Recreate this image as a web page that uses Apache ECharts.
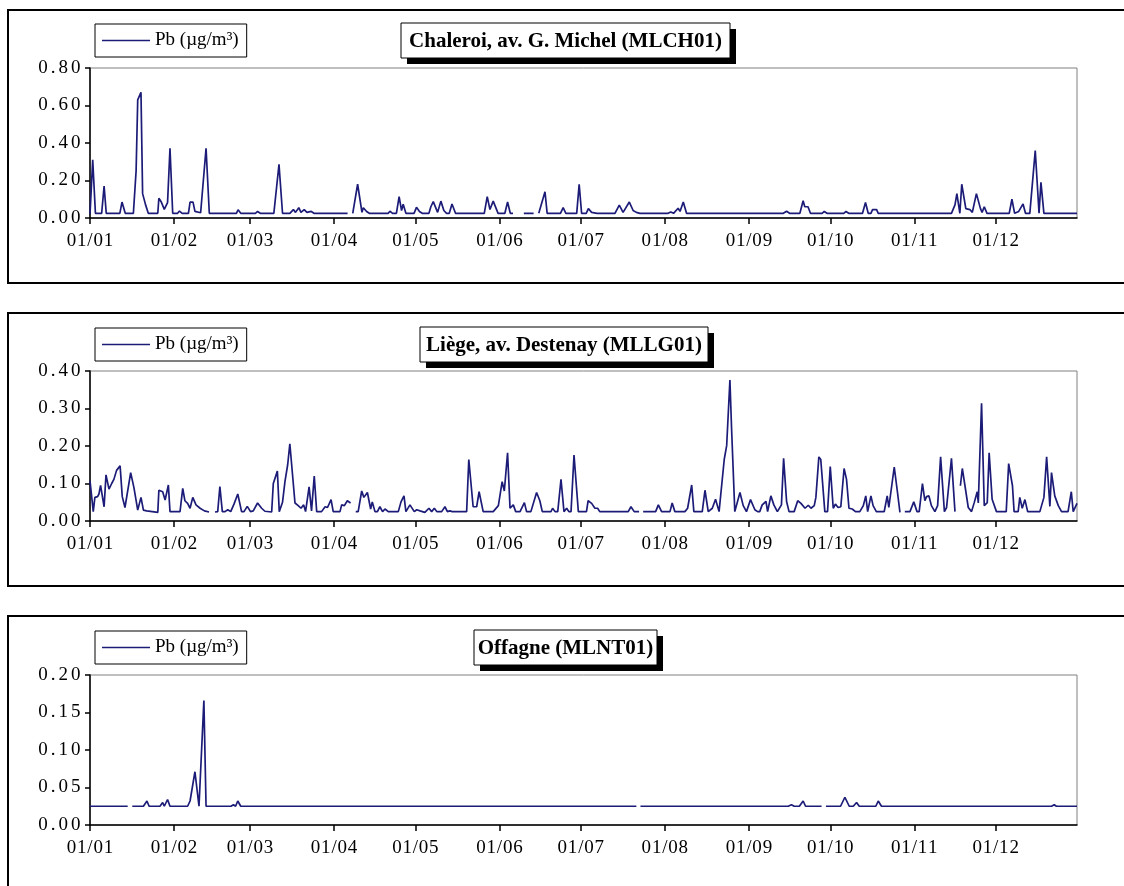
<!DOCTYPE html>
<html>
<head>
<meta charset="utf-8">
<script src="https://cdn.jsdelivr.net/npm/echarts@6/dist/echarts.min.js"></script>
<style>
html,body{margin:0;padding:0;background:#fff;}
#chart{width:1124px;height:886px;}
</style>
</head>
<body>
<div id="chart"></div>
<script>
// ---- Data (day of year 0 = 01/01; null = gap in measurements) ----
var monthDays = [0, 31, 59, 90, 120, 151, 181, 212, 243, 273, 304, 334];
var monthLabels = ['01/01','01/02','01/03','01/04','01/05','01/06','01/07','01/08','01/09','01/10','01/11','01/12'];
var seriesName = 'Pb (µg/m³)';
var titles = ['Chaleroi, av. G. Michel (MLCH01)', 'Liège, av. Destenay (MLLG01)', 'Offagne (MLNT01)'];

var chDays = [0,1,2,4.3,5.2,6,11,11.8,13,16,17,17.6,18.8,19.4,20.5,21.5,25,25.4,26.3,27.4,28.6,29.5,30.5,32.3,33,34,36.3,36.9,38,38.7,40.8,42.8,44,54,54.6,55.6,61,61.8,62.8,67.8,69.7,71,73.7,75,75.8,77,77.8,79,80,81.6,82.6,95,95.5,96.9,98.7,100.3,100.8,102,103,110,110.6,111.6,113,114,114.9,115.5,116.5,119.5,120.4,121.5,122.5,125,125.7,126.6,128.2,129.4,130.5,131.5,132.5,133.5,134.8,145.4,146.5,147.5,148.7,150.5,153,154,155,156,158,160,163.6,164.5,165.5,167.8,168.6,173.5,174.5,175.5,179.5,180.4,181.3,183,183.8,185,187,193.6,195.2,196.6,198.9,200.3,201.5,202.8,213.2,214.2,215.2,216.9,217.6,218.8,220,255.7,256.9,258,261.8,263,263.6,264.8,265.7,270,270.8,271.8,278,278.8,279.8,284.9,286,287,288,288.6,290.1,290.7,317.7,319,319.7,320.8,321.5,323,324.5,325.4,326.9,328.4,329,329.8,330.8,339,340,341,342.5,344.1,345,346.6,348.6,350,350.7,351.8,364];
var chVals = [0.02,0.31,0.025,0.025,0.17,0.025,0.025,0.085,0.025,0.025,0.25,0.63,0.67,0.13,0.07,0.025,0.025,0.105,0.085,0.046,0.082,0.372,0.025,0.025,0.037,0.025,0.025,0.085,0.085,0.035,0.028,0.372,0.025,0.025,0.044,0.025,0.025,0.035,0.025,0.025,0.286,0.025,0.025,0.045,0.03,0.055,0.03,0.045,0.03,0.035,0.025,0.025,null,0.025,0.18,0.03,0.055,0.035,0.025,0.025,0.036,0.025,0.025,0.114,0.04,0.073,0.025,0.025,0.057,0.035,0.025,0.025,0.06,0.087,0.03,0.09,0.04,0.025,0.025,0.075,0.025,0.025,0.114,0.045,0.09,0.025,0.025,0.085,0.025,0.025,null,0.025,0.025,null,0.025,0.14,0.025,0.025,0.055,0.025,0.025,0.18,0.025,0.025,0.05,0.03,0.025,0.025,0.069,0.03,0.085,0.04,0.03,0.025,0.025,0.032,0.025,0.052,0.035,0.085,0.025,0.025,0.036,0.025,0.025,0.092,0.06,0.06,0.025,0.025,0.035,0.025,0.025,0.035,0.025,0.025,0.083,0.025,0.025,0.045,0.045,0.025,0.025,0.07,0.13,0.025,0.18,0.05,0.045,0.03,0.13,0.05,0.03,0.06,0.025,0.025,0.10,0.025,0.035,0.075,0.025,0.025,0.36,0.025,0.19,0.025,0.025];

var lgDays = [0,1.2,1.8,2.8,3.3,3.9,5.2,5.9,7,8,8.8,9.8,11.1,11.9,12.9,13.6,15,16.2,17.6,18.8,19.7,20.9,21.5,25,25.4,26.8,27.7,28.9,29.5,33.2,34.2,35,36,36.9,37.9,39.1,40.6,42.2,43.9,45,46.1,47.1,47.9,48.8,49.8,50.8,51.9,53.1,54.5,55.9,56.8,58,59.2,60.2,61.8,63.3,64.5,67,67.6,69.1,69.8,71,71.9,72.9,73.7,75.6,76.8,77.8,78.8,79.5,80.8,81.7,82.7,83.6,85.4,86.7,87.6,88.9,89.7,92.2,92.8,93.8,94.9,96.1,97,98,98.9,100.2,101,102.3,103.5,104.1,105.1,106,106.9,107.9,108.8,110,113.7,114.7,115.8,116.5,118,119.6,120.5,121.7,123.5,125,126,127,127.9,129.7,130.9,131.8,132.7,133.6,138.9,139.7,141.3,142.6,143.5,145,148.7,150.6,152,152.8,154,154.9,156.1,157,158.6,160.2,161,162.6,164.7,165.9,166.8,170,170.6,171.5,172.5,173.7,174.8,175.8,176.6,177.4,178.5,180.1,183.1,183.7,185,186.2,187.2,188,198.5,199.5,200.7,202.5,203.2,204,208.6,209.6,210.8,213.9,214.7,215.7,219.4,220.4,220.9,221.9,222.7,225.8,226.8,228,229.5,230.7,232,232.7,233.9,234.8,236,236.6,237.8,239.7,240.9,242.1,243.6,245.2,246.2,247,247.9,248.6,249.3,249.9,251.1,252.2,253.5,255,255.8,256.9,257.8,259.7,261,262.2,263.7,264.9,265.9,267.1,267.7,268.8,269.5,271,272,273,274.1,274.9,275.9,276.9,278.1,279,279.9,281.1,282.3,283.9,285.2,286.1,286.8,288,288.8,290,292.9,294,294.6,296.6,297.8,298.7,299.6,300.5,302.4,303.8,305,305.8,307,307.9,308.5,309.4,310.3,311.6,312.6,313.7,315.1,315.9,317.7,319,320,321,321.7,322.6,323.9,325.1,326.1,327.2,327.6,328.8,329.8,330.9,331.6,332.7,334.3,337.9,338.8,340.2,340.8,342.3,342.9,343.8,344.8,345.8,350.3,351.8,352.8,354,354.6,355.8,357.1,358.3,360.7,361.9,362.6,364];
var lgVals = [0.107,0.025,0.063,0.065,0.072,0.095,0.038,0.123,0.085,0.1,0.111,0.135,0.147,0.065,0.036,0.032,0.129,0.089,0.029,0.063,0.029,0.027,0.023,0.023,0.082,0.078,0.056,0.096,0.025,0.025,0.087,0.054,0.047,0.034,0.063,0.043,0.034,0.027,0.024,null,0.024,0.025,0.092,0.025,0.025,0.03,0.025,0.045,0.072,0.025,0.025,0.039,0.025,0.027,0.048,0.034,0.026,0.024,0.1,0.133,0.025,0.05,0.105,0.15,0.206,0.048,0.041,0.034,0.043,0.025,0.091,0.027,0.12,0.025,0.025,0.038,0.036,0.057,0.025,0.025,0.043,0.041,0.054,0.048,null,0.025,0.025,0.08,0.063,0.076,0.032,0.051,0.025,0.025,0.038,0.025,0.032,0.025,0.025,0.051,0.067,0.025,0.043,0.025,0.03,0.027,0.023,0.034,0.025,0.034,0.025,0.025,0.038,0.025,0.027,0.025,0.025,0.164,0.038,0.038,0.078,0.025,0.025,0.041,0.105,0.08,0.182,0.034,0.043,0.025,0.025,0.049,0.025,0.025,0.076,0.054,0.025,0.025,0.034,0.025,0.025,0.111,0.025,0.034,0.025,0.025,0.176,0.025,0.025,0.054,0.047,0.034,0.034,0.025,0.025,0.038,0.025,0.025,null,0.025,0.025,0.043,0.025,0.025,0.048,0.025,0.025,0.034,0.034,0.096,0.025,0.025,0.082,0.025,0.034,0.058,0.025,0.025,0.164,0.201,0.376,0.248,0.025,0.076,0.041,0.025,0.057,0.03,0.025,0.025,0.043,0.048,0.052,0.025,0.067,0.043,0.025,0.043,0.167,0.052,0.025,0.025,0.054,0.047,0.034,0.042,0.034,0.041,0.063,0.171,0.164,0.025,0.025,0.145,0.034,0.045,0.036,0.038,0.14,0.111,0.034,0.032,0.025,0.025,0.041,0.067,0.025,0.067,0.041,0.025,0.025,0.067,0.036,0.144,0.076,0.023,null,0.025,0.025,0.051,0.025,0.025,0.1,0.054,0.065,0.067,0.041,0.025,0.041,0.171,0.025,0.036,0.167,0.025,null,0.094,0.14,0.098,0.036,0.025,0.049,0.078,0.048,0.314,0.041,0.049,0.182,0.058,0.025,0.025,0.153,0.094,0.025,0.025,0.063,0.034,0.057,0.025,0.025,0.063,0.171,0.039,0.129,0.067,0.041,0.025,0.025,0.078,0.025,0.047];

var ofDays = [0,13.9,14.7,15.6,19.7,21,21.8,25.8,26.8,27.4,28.6,29.5,36,36.9,38.7,40.2,42,42.8,52,52.9,53.7,54.5,55.6,201.5,202.2,203,257.5,258.7,259.7,261.6,263,263.9,269.8,270.6,271.4,276.8,278.4,280,281.5,282.7,283.7,289.8,290.7,291.9,354.6,355.6,356.4,364];
var ofVals = [0.025,0.025,null,0.025,0.025,0.032,0.025,0.025,0.03,0.025,0.034,0.025,0.025,0.032,0.071,0.025,0.166,0.025,0.025,0.027,0.025,0.032,0.025,0.025,null,0.025,0.025,0.027,0.025,0.025,0.032,0.025,0.025,null,0.025,0.025,0.037,0.025,0.025,0.03,0.025,0.025,0.032,0.025,0.025,0.027,0.025,0.025];

var yMax = [0.8, 0.4, 0.2];
var yStep = [0.2, 0.1, 0.05];

// ---- Build ----
function pairs(days, vals) {
  return days.map(function (d, i) { return [d, vals[i] === null ? '-' : vals[i]]; });
}
var allData = [pairs(chDays, chVals), pairs(lgDays, lgVals), pairs(ofDays, ofVals)];

var FONT = '"Liberation Serif", "Times New Roman", serif';
var gridTops = [68, 371, 675];
var panelTops = [10, 313, 616];
var titleBoxes = [
  {x: 401, y: 23, w: 329, h: 35},
  {x: 420, y: 327, w: 288, h: 35},
  {x: 474, y: 630, w: 183, h: 35}
];
var legendTops = [24, 328, 631];

function spaced(s) {
  return s.split('').map(function (c) { return '{c|' + c + '}'; }).join('');
}

var grids = [], xAxes = [], yAxes = [], series = [], legends = [], graphics = [];
for (var i = 0; i < 3; i++) {
  grids.push({left: 90, right: 47, top: gridTops[i], height: 150, show: true,
    borderColor: '#808080', borderWidth: 1, backgroundColor: 'transparent'});
  xAxes.push({
    type: 'value', gridIndex: i, min: 0, max: 364,
    splitLine: {show: false},
    axisLine: {show: true, onZero: false, lineStyle: {color: '#000', width: 1.5}},
    axisTick: {show: true, customValues: monthDays, length: 6, lineStyle: {color: '#000', width: 1.5}},
    axisLabel: {customValues: monthDays, color: '#000', fontFamily: FONT, fontSize: 19, margin: 14,
      formatter: function (v) { var k = monthDays.indexOf(Math.round(v)); return k >= 0 ? spaced(monthLabels[k]) : ''; },
      rich: {c: {fontFamily: FONT, fontSize: 19, color: '#000', padding: [0, 0.4, 0, 0.4]}}}
  });
  yAxes.push({
    type: 'value', gridIndex: i, min: 0, max: yMax[i], interval: yStep[i],
    splitLine: {show: false},
    axisLine: {show: true, lineStyle: {color: '#000', width: 1.5}},
    axisTick: {show: true, length: 5, lineStyle: {color: '#000', width: 1.5}},
    axisLabel: {color: '#000', fontFamily: FONT, fontSize: 19, margin: 8,
      formatter: function (v) { return spaced(v.toFixed(2)); },
      rich: {c: {fontFamily: FONT, fontSize: 19, color: '#000', padding: [0, 1.5, 0, 1.5]}}}
  });
  series.push({
    name: seriesName, type: 'line', xAxisIndex: i, yAxisIndex: i,
    data: allData[i], showSymbol: false, symbol: 'none', connectNulls: false,
    lineStyle: {color: '#1c1c78', width: 1.7}, itemStyle: {color: '#1c1c78'},
    animation: false
  });
  legends.push({
    data: [seriesName], left: 95, top: legendTops[i], orient: 'horizontal',
    icon: 'rect', itemWidth: 48, itemHeight: 1.6, itemGap: 0,
    padding: [7, 8, 7, 7], borderColor: '#000', borderWidth: 1, backgroundColor: '#fff',
    textStyle: {color: '#000', fontFamily: FONT, fontSize: 19}
  });
  // panel frame
  graphics.push({type: 'rect', z: 0, shape: {x: 8, y: panelTops[i], width: 1130, height: 273},
    style: {fill: 'none', stroke: '#000', lineWidth: 2}, silent: true});
  var tb = titleBoxes[i];
  graphics.push({type: 'rect', z: 10, shape: {x: tb.x + 6, y: tb.y + 6, width: tb.w, height: tb.h},
    style: {fill: '#000'}, silent: true});
  graphics.push({type: 'rect', z: 11, shape: {x: tb.x, y: tb.y, width: tb.w, height: tb.h},
    style: {fill: '#fff', stroke: '#000', lineWidth: 1}, silent: true});
  graphics.push({type: 'text', z: 12, x: tb.x + tb.w / 2, y: tb.y + tb.h / 2 + 1,
    style: {text: titles[i], fill: '#000', font: 'bold 21px ' + FONT, textAlign: 'center', textVerticalAlign: 'middle'},
    silent: true});
}

var chart = echarts.init(document.getElementById('chart'));
chart.setOption({
  backgroundColor: '#fff',
  animation: false,
  grid: grids, xAxis: xAxes, yAxis: yAxes, series: series, legend: legends,
  graphic: graphics
});
</script>
</body>
</html>
